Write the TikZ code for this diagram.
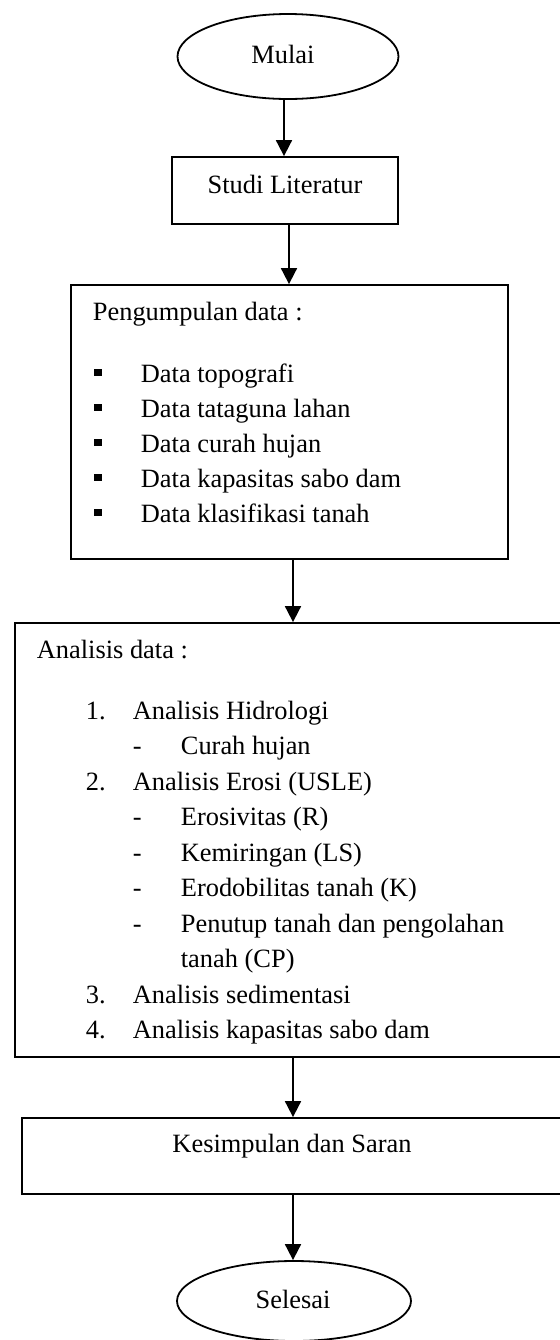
\documentclass[tikz,border=0pt]{standalone}
\usepackage{fontspec}
\setmainfont{Liberation Serif}
\usetikzlibrary{shapes.geometric,arrows.meta}
\begin{document}
\begin{tikzpicture}[x=0.5pt,y=-0.5pt,
  line width=0.9pt,
  every node/.style={font=\fontsize{13.2}{16}\selectfont},
  oval/.style={draw,ellipse,inner sep=0pt},
  box/.style={draw,rectangle,inner sep=0pt},
  txt/.style={anchor=base west,inner sep=0pt},
  ctxt/.style={anchor=base,inner sep=0pt},
  bul/.style={fill=black,rectangle,inner sep=0pt,minimum width=4pt,minimum height=3.6pt},
  arr/.style={-{Triangle[width=8pt,length=8pt]},line width=0.9pt}]
\useasboundingbox (0,0) rectangle (559,1340);

% Start
\node[oval,minimum width=110.5pt,minimum height=42.5pt] (mulai) at (288,56.5) {};
\node[ctxt] (mulait) at (283,63) {Mulai};

% Studi Literatur
\node[box,minimum width=113pt,minimum height=33.5pt] (studi) at (285,190.5) {};
\node[ctxt] (studit) at (285,193) {Studi Literatur};

% Pengumpulan data
\node[box,minimum width=218.5pt,minimum height=137pt] (kumpul) at (289.5,422) {};
\node[txt] (kumpult) at (92,320) {Pengumpulan data :};
\node[bul] (b1) at (97.5,372.5) {};
\node[bul] (b2) at (97.5,407.5) {};
\node[bul] (b3) at (97.5,442.5) {};
\node[bul] (b4) at (97.5,477.5) {};
\node[bul] (b5) at (97.5,512.5) {};
\node[txt] (k1) at (140,382) {Data topografi};
\node[txt] (k2) at (140,417) {Data tataguna lahan};
\node[txt] (k3) at (140,452) {Data curah hujan};
\node[txt] (k4) at (140,487) {Data kapasitas sabo dam};
\node[txt] (k5) at (140,522) {Data klasifikasi tanah};

% Analisis data
\node[box,minimum width=278pt,minimum height=217pt] (analisis) at (293,840) {};
\node[txt] (at) at (36,658) {Analisis data :};
\node[txt] (n1) at (85,719) {1.};
\node[txt] (a1) at (132,719) {Analisis Hidrologi};
\node[txt] (d1) at (132,754.5) {-};
\node[txt] (s1) at (180,754.5) {Curah hujan};
\node[txt] (n2) at (85,790) {2.};
\node[txt] (a2) at (132,790) {Analisis Erosi (USLE)};
\node[txt] (d2) at (132,825.5) {-};
\node[txt] (s2) at (180,825.5) {Erosivitas (R)};
\node[txt] (d3) at (132,861) {-};
\node[txt] (s3) at (180,861) {Kemiringan (LS)};
\node[txt] (d4) at (132,896.5) {-};
\node[txt] (s4) at (180,896.5) {Erodobilitas tanah (K)};
\node[txt] (d5) at (132,932) {-};
\node[txt] (s5) at (180,932) {Penutup tanah dan pengolahan};
\node[txt] (s5b) at (180,967.5) {tanah (CP)};
\node[txt] (n3) at (85,1003) {3.};
\node[txt] (a3) at (132,1003) {Analisis sedimentasi};
\node[txt] (n4) at (85,1038.5) {4.};
\node[txt] (a4) at (132,1038.5) {Analisis kapasitas sabo dam};

% Kesimpulan
\node[box,minimum width=271pt,minimum height=38pt] (kes) at (293,1156) {};
\node[ctxt] (kest) at (292,1152) {Kesimpulan dan Saran};

% End
\node[oval,minimum width=117pt,minimum height=40pt] (selesai) at (294,1301) {};
\node[ctxt] (selesait) at (293,1308) {Selesai};

% Arrows
\draw[arr] ([xshift=-2pt]mulai.south) -- ([xshift=-2pt]mulai.south |- studi.north);
\draw[arr] ([xshift=2pt]studi.south) -- ([xshift=2pt]studi.south |- kumpul.north);
\draw[arr] ([xshift=1.75pt]kumpul.south) -- ([xshift=1.75pt]kumpul.south |- analisis.north);
\draw[arr] (analisis.south) -- (analisis.south |- kes.north);
\draw[arr] (kes.south) -- (kes.south |- selesai.north);
\end{tikzpicture}
\end{document}
